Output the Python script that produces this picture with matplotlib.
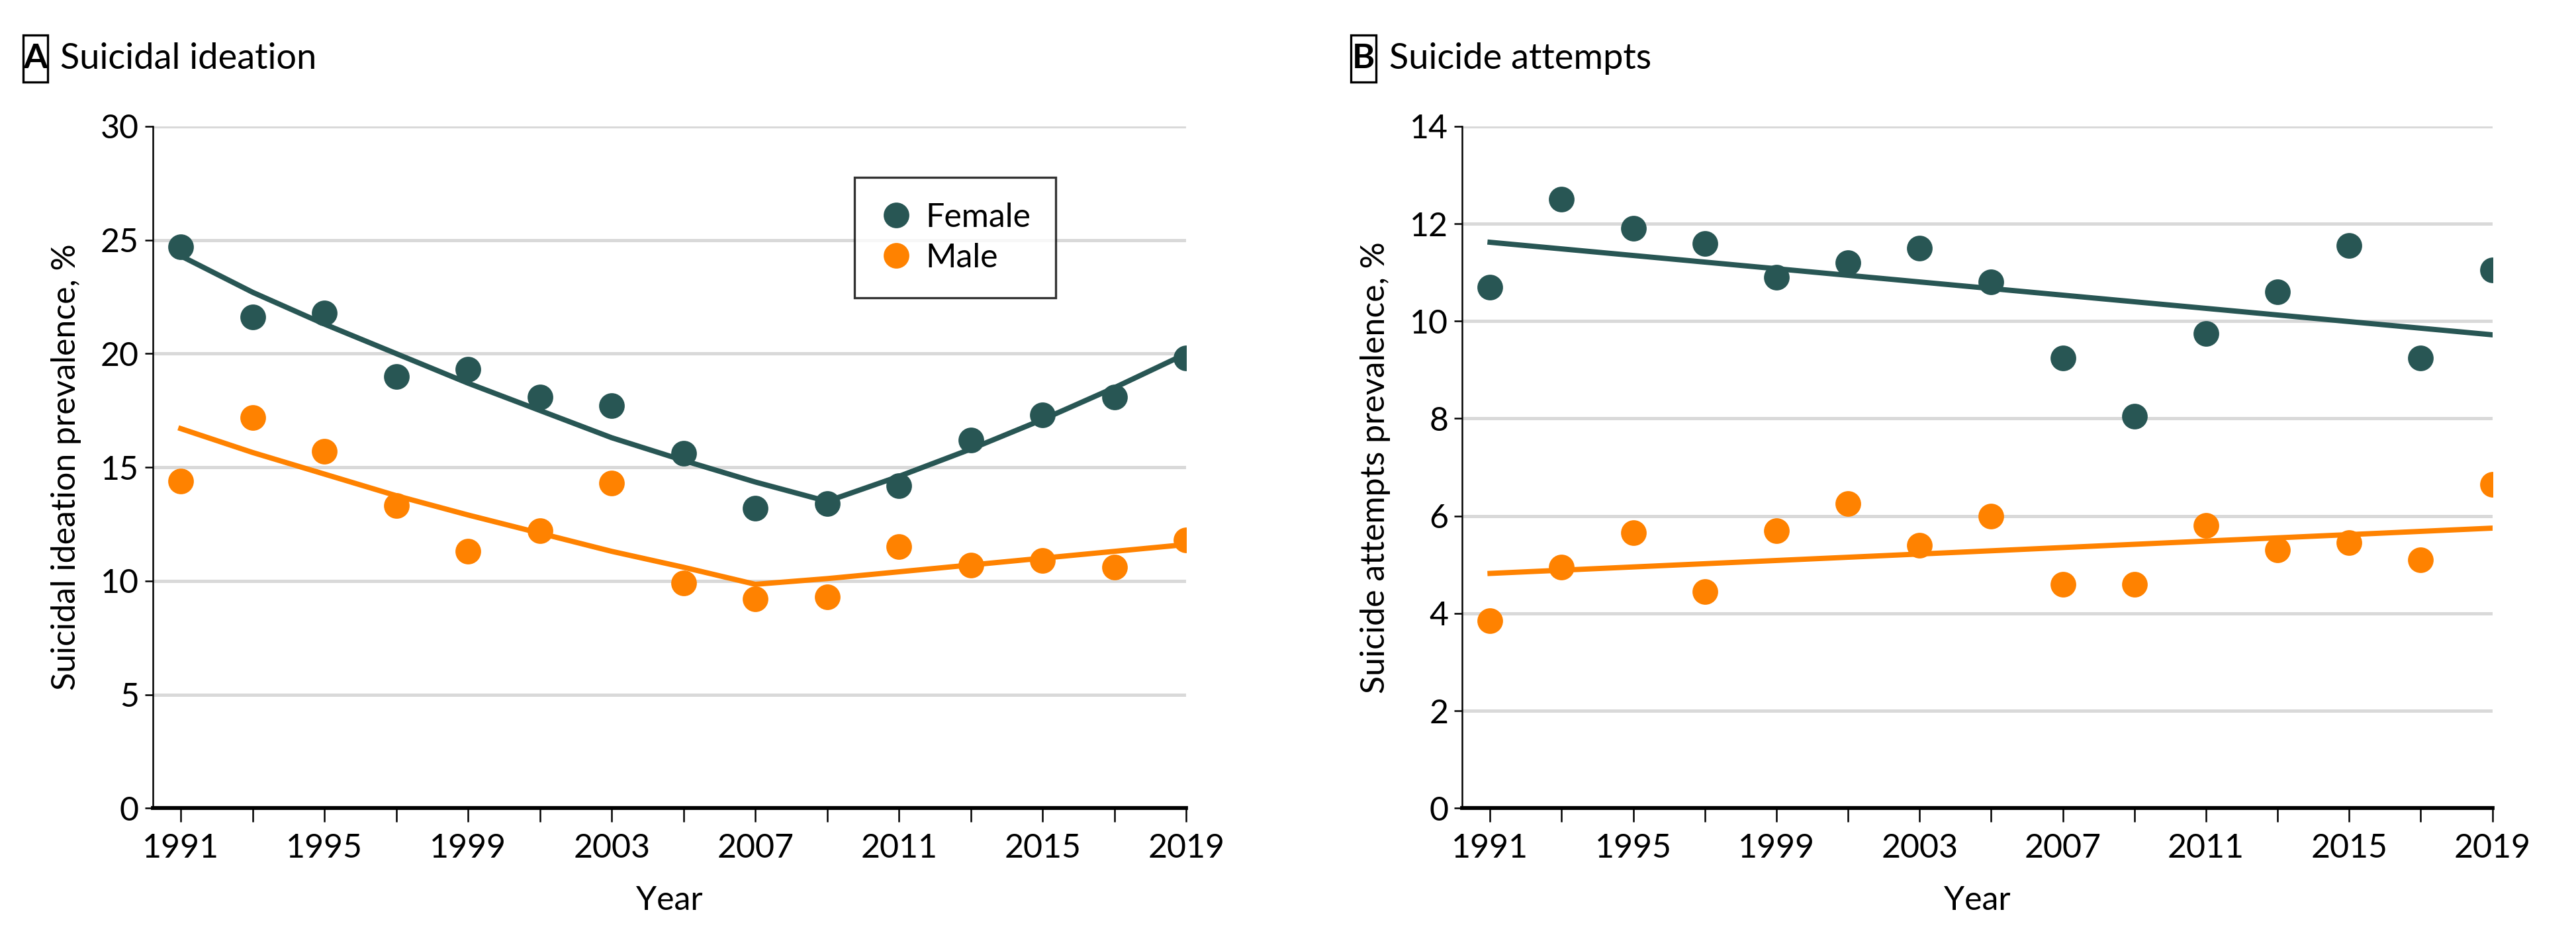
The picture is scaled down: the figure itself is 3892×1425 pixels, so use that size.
import matplotlib.pyplot as plt
from matplotlib.patches import Rectangle

plt.rcParams['font.family'] = ['Lato', 'DejaVu Sans']

# survey years
years = [1991, 1993, 1995, 1997, 1999, 2001, 2003, 2005, 2007, 2009, 2011, 2013, 2015, 2017, 2019]
year_labels = [1991, 1995, 1999, 2003, 2007, 2011, 2015, 2019]

# A: suicidal ideation, observed
ideation_female = [24.7, 21.6, 21.8, 19.0, 19.3, 18.1, 17.7, 15.6, 13.2, 13.4, 14.2, 16.2, 17.3, 18.1, 19.8]
ideation_male = [14.4, 17.2, 15.7, 13.3, 11.3, 12.2, 14.3, 9.9, 9.2, 9.3, 11.5, 10.7, 10.9, 10.6, 11.8]
# A: fitted joinpoint trends
ideation_female_fit = [24.3, 22.7, 21.3, 20.0, 18.7, 17.5, 16.3, 15.3, 14.35, 13.5, 14.6, 15.8, 17.1, 18.5, 20.0]
ideation_male_fit = [16.7, 15.65, 14.7, 13.75, 12.9, 12.1, 11.3, 10.6, 9.85, 10.1, 10.4, 10.7, 11.0, 11.3, 11.6]

# B: suicide attempts, observed
attempts_female = [10.7, 12.5, 11.9, 11.6, 10.9, 11.2, 11.5, 10.8, 9.25, 8.05, 9.75, 10.6, 11.55, 9.25, 11.05]
attempts_male = [3.85, 4.95, 5.65, 4.45, 5.7, 6.25, 5.4, 6.0, 4.6, 4.6, 5.8, 5.3, 5.45, 5.1, 6.65]
# B: fitted trends (endpoints)
fit_years_b = [1991, 2019]
attempts_female_fit = [11.62, 9.72]
attempts_male_fit = [4.82, 5.75]

c_female = '#285654'
c_male = '#FF8200'
FS = 12

fig = plt.figure(figsize=(3892 / 300, 1425 / 300), dpi=300)
axA = fig.add_axes([0.0593, 0.143, 0.4012, 0.723])
axB = fig.add_axes([0.5676, 0.143, 0.3999, 0.723])


def style(ax, ymax, ystep, ylabel):
    ax.set_xlim(1990.22, 2019)
    ax.set_ylim(0, ymax)
    ax.set_yticks(range(0, ymax + 1, ystep))
    ax.set_xticks(years)
    ax.set_xticklabels([str(y) if y in year_labels else '' for y in years])
    ax.grid(axis='y', color='#d9d9d9', linewidth=1.2)
    ax.set_axisbelow(True)
    for s in ['top', 'right']:
        ax.spines[s].set_visible(False)
    ax.spines['left'].set_linewidth(0.6)
    ax.spines['bottom'].set_linewidth(1.4)
    ax.tick_params(axis='x', direction='out', length=5, width=0.6, labelsize=FS, pad=4)
    ax.tick_params(axis='y', direction='out', length=3, width=0.6, labelsize=FS, pad=2)
    ax.set_xlabel('Year', fontsize=FS, labelpad=8)
    ax.set_ylabel(ylabel, fontsize=FS, labelpad=7)


def panel_label(x_box, x_title, letter, title):
    y0, h, w = 0.913, 0.050, 0.0096
    fig.add_artist(Rectangle((x_box, y0), w, h, transform=fig.transFigure,
                             facecolor='white', edgecolor='black', linewidth=0.8))
    fig.text(x_box + w / 2, y0 + h / 2, letter, fontsize=12.5, fontweight='bold',
             ha='center', va='center')
    fig.text(x_title, y0 + h / 2, title, fontsize=13, ha='left', va='center')


# panel A
axA.plot(years, ideation_female_fit, color=c_female, linewidth=1.9, zorder=2)
axA.plot(years, ideation_male_fit, color=c_male, linewidth=1.9, zorder=2)
axA.plot(years, ideation_female, 'o', color=c_female, markersize=8.3, label='Female', zorder=3)
axA.plot(years, ideation_male, 'o', color=c_male, markersize=8.3, label='Male', zorder=3)
style(axA, 30, 5, 'Suicidal ideation prevalence, %')
leg = axA.legend(loc='upper left', bbox_to_anchor=(0.679, 0.925), fontsize=FS, frameon=True,
                 fancybox=False, edgecolor='black', handletextpad=0.4, borderpad=0.75,
                 labelspacing=0.3, handlelength=1.0, borderaxespad=0)
leg.get_frame().set_linewidth(0.8)

# panel B
axB.plot(fit_years_b, attempts_female_fit, color=c_female, linewidth=1.9, zorder=2)
axB.plot(fit_years_b, attempts_male_fit, color=c_male, linewidth=1.9, zorder=2)
axB.plot(years, attempts_female, 'o', color=c_female, markersize=8.3, zorder=3)
axB.plot(years, attempts_male, 'o', color=c_male, markersize=8.3, zorder=3)
style(axB, 14, 2, 'Suicide attempts prevalence, %')

panel_label(0.0089, 0.0235, 'A', 'Suicidal ideation')
panel_label(0.5245, 0.5393, 'B', 'Suicide attempts')

fig.savefig('out.png', dpi=300, facecolor='white')
